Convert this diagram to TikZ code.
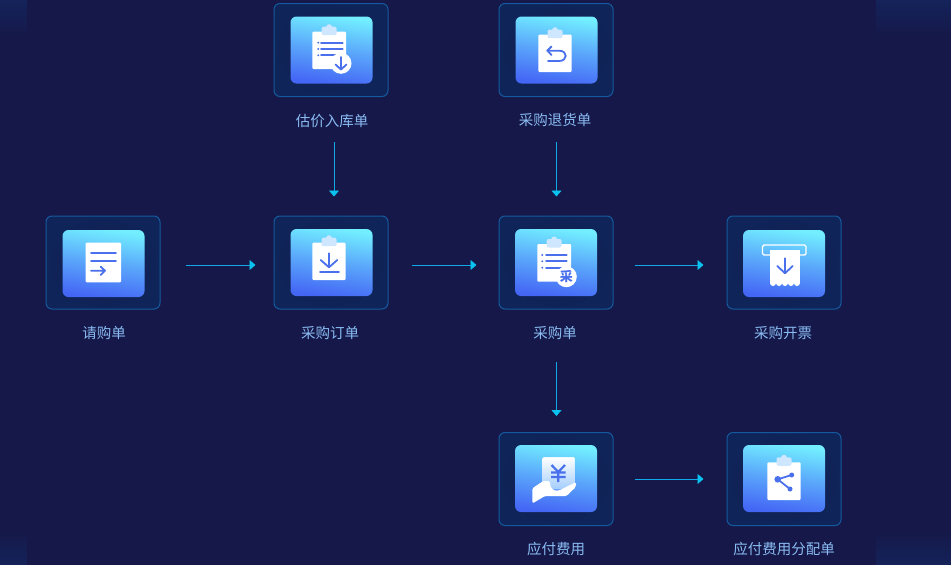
\documentclass[tikz,border=0pt]{standalone}
\usepackage{fontspec}
\setmainfont{Noto Sans CJK SC}
\usetikzlibrary{arrows.meta}
\definecolor{pagebg}{HTML}{151848}
\definecolor{bandbg}{HTML}{14235A}
\definecolor{cardedge}{HTML}{155A9E}
\definecolor{cardin}{HTML}{131C4E}
\definecolor{cardout}{HTML}{0F2459}
\definecolor{tiletop}{HTML}{72EEFF}
\definecolor{tilemid}{HTML}{5AA6FB}
\definecolor{tilebot}{HTML}{4466F5}
\definecolor{inkblue}{HTML}{4A70EE}
\definecolor{tabpale}{HTML}{CFE6FF}
\definecolor{labelblue}{HTML}{8ABBF3}
\definecolor{flowblue}{HTML}{0FA8E8}
\tikzset{
    card/.style={draw=cardedge, line width=1pt, rounded corners=6pt, minimum width=114pt, minimum height=93pt, inner color=cardin, outer color=cardout},
    tile/.style={rounded corners=6pt, minimum width=82pt, minimum height=67pt, top color=tiletop, bottom color=tilebot, middle color=tilemid, shading angle=-8},
    caption/.style={text=labelblue, font=\fontsize{14.5}{16}\selectfont, inner sep=1pt},
    flow/.style={draw=flowblue, line width=0.9pt, -{Triangle[length=6pt,width=10pt,color=flowblue!70!cyan]}},
    sheet/.style={fill=white, rounded corners=1pt},
    ink/.style={draw=inkblue, line width=1.8pt, line cap=round, line join=round},
    inkdot/.style={fill=inkblue}
}
% clipboard: top left corner, width, height
\newcommand{\clipboard}[4]{
    \fill[sheet] (#1,#2) rectangle ++(#3,#4);
    \fill[tabpale, rounded corners=2pt] (#1+#3/2-7.5,#2-5) rectangle (#1+#3/2+7.5,#2+3.5);
    \fill[tabpale] (#1+#3/2,#2-4.5) circle (3);
}
\begin{document}
\begin{tikzpicture}[x=1pt,y=-1pt]
    \useasboundingbox (0,0) rectangle (951,565);
    \fill[pagebg] (0,0) rectangle (951,565);
    % Side bands
    \fill[top color=bandbg, bottom color=pagebg] (0,0) rectangle (27,38);
    \fill[top color=pagebg, bottom color=bandbg] (0,530) rectangle (27,565);
    \fill[top color=bandbg, bottom color=pagebg] (876,0) rectangle (951,38);
    \fill[top color=pagebg, bottom color=bandbg] (876,530) rectangle (951,565);
    % Cards
    \node[card] (cardEstimate) at (331,50) {};
    \node[card] (cardReturn) at (556,50) {};
    \node[card] (cardRequest) at (103,262.5) {};
    \node[card] (cardOrder) at (331,262.5) {};
    \node[card] (cardPurchase) at (556,262.5) {};
    \node[card] (cardInvoice) at (784,262.5) {};
    \node[card] (cardPayable) at (556,479) {};
    \node[card] (cardShare) at (784,479) {};
    % Tiles
    \node[tile] (tileEstimate) at (331.5,50) {};
    \node[tile] (tileReturn) at (556.5,50) {};
    \node[tile] (tileRequest) at (103.5,263.5) {};
    \node[tile] (tileOrder) at (331.5,262.5) {};
    \node[tile] (tilePurchase) at (556,262.5) {};
    \node[tile] (tileInvoice) at (784,263.5) {};
    \node[tile] (tilePayable) at (556,478.5) {};
    \node[tile] (tileShare) at (784,478.5) {};
    % Labels
    \node[caption] (nameEstimate) at (332,121) {估价入库单};
    \node[caption] (nameReturn) at (555,120) {采购退货单};
    \node[caption] (nameRequest) at (104,333) {请购单};
    \node[caption] (nameOrder) at (330,333) {采购订单};
    \node[caption] (namePurchase) at (555,333) {采购单};
    \node[caption] (nameInvoice) at (783,333) {采购开票};
    \node[caption] (namePayable) at (556,549) {应付费用};
    \node[caption] (nameShare) at (784,549) {应付费用分配单};
    % Flow arrows
    \draw[flow, shorten <=25pt, shorten >=18pt] ([yshift=-2.5pt]cardRequest.east) -- ([yshift=-2.5pt]cardOrder.west);
    \draw[flow, shorten <=23pt, shorten >=22pt] ([yshift=-2.5pt]cardOrder.east) -- ([yshift=-2.5pt]cardPurchase.west);
    \draw[flow, shorten <=21pt, shorten >=23pt] ([yshift=-2.5pt]cardPurchase.east) -- ([yshift=-2.5pt]cardInvoice.west);
    \draw[flow, shorten <=21pt, shorten >=23pt] (cardPayable.east) -- (cardShare.west);
    \draw[flow, shorten <=13pt, shorten >=19pt] ([xshift=2pt]nameEstimate.south) -- ([xshift=3pt]cardOrder.north);
    \draw[flow, shorten <=14pt, shorten >=19pt] ([xshift=1.5pt]nameReturn.south) -- ([xshift=0.5pt]cardPurchase.north);
    \draw[flow, shorten <=21pt, shorten >=16pt] ([xshift=1.5pt]namePurchase.south) -- ([xshift=0.5pt]cardPayable.north);
    % Icon: estimate
    \clipboard{312.3}{31.7}{33.7}{37.3}
    \foreach \y in {42.7,49,55.3} {
        \draw[ink] (321,\y) -- (342.7,\y);
        \fill[inkdot] (318.3,\y) circle (1.1);
    }
    \fill[white] (341,63.3) circle (10.5);
    \draw[ink] (341,57) -- (341,69.5) (335.5,64.5) -- (341,69.5) -- (346.5,64.5);
    % Icon: return
    \clipboard{538.3}{34.7}{33.4}{37.3}
    \draw[ink] (551.5,46.5) -- (547.3,50.7) -- (551.5,55);
    \draw[ink] (547.3,50.7) -- (559,50.7) .. controls (568,50.7) and (568,61) .. (559,61) -- (548,61);
    % Icon: request
    \fill[sheet] (85.7,242.7) rectangle (121,282.3);
    \draw[ink] (91,253.3) -- (116,253.3) (91,261) -- (116,261);
    \draw[ink] (91,270.7) -- (105,270.7) (100.7,266.7) -- (105,270.7) -- (100.7,275);
    % Icon: order
    \clipboard{312.3}{242.7}{33.4}{37.3}
    \draw[ink] (329,253.3) -- (329,267) (320.7,260) -- (329,267.3) -- (337.3,260);
    \draw[ink] (320,271.7) -- (339,271.7);
    % Icon: purchase
    \clipboard{537.3}{244}{33.7}{37.7}
    \foreach \y in {255,261.3,267.7} {
        \draw[ink] (546,\y) -- (566.7,\y);
        \fill[inkdot] (542.3,\y) circle (1.1);
    }
    \fill[white] (566.3,276.7) circle (10.5);
    \node[text=inkblue, font=\bfseries\fontsize{13}{13}\selectfont, inner sep=0pt] (markPurchase) at (566.3,276.7) {采};
    % Icon: invoice
    \draw[white, line width=1.4pt, rounded corners=1.5pt] (762.5,255) rectangle (806,245);
    \fill[white] (770.3,250) rectangle (800,283);
    \foreach \x in {773,779,785,791,797} \fill[white] (\x,283) circle (3);
    \draw[ink] (785,258.3) -- (785,273) (777.3,266) -- (785,273.3) -- (792.7,266);
    % Icon: payable
    \fill[sheet, top color=white, bottom color=white!45!tilemid] (542.7,457.3) rectangle (574.7,489);
    \draw[ink, line width=2.2pt, line cap=butt] (551.5,465) -- (558.3,472) -- (565,465) (558.3,472) -- (558.3,482) (551,472.5) -- (565.5,472.5) (551,477) -- (565.5,477);
    \fill[white, rounded corners=1.5pt] (532.3,503.5) -- (532.3,488.3) -- (543.3,481) -- (550,481) .. controls (550,488) and (553,491) .. (559,490.5) -- (576,482) -- (576,486.5) -- (566.7,496) -- (545,496) -- cycle;
    % Icon: share
    \clipboard{767.3}{462.3}{33.4}{37.7}
    \draw[ink] (791.7,475) -- (777.7,479.3) -- (790,489);
    \fill[inkdot] (777.7,479.3) circle (3.3) (791.7,475) circle (2.5) (790,489) circle (2.5);
\end{tikzpicture}
\end{document}
